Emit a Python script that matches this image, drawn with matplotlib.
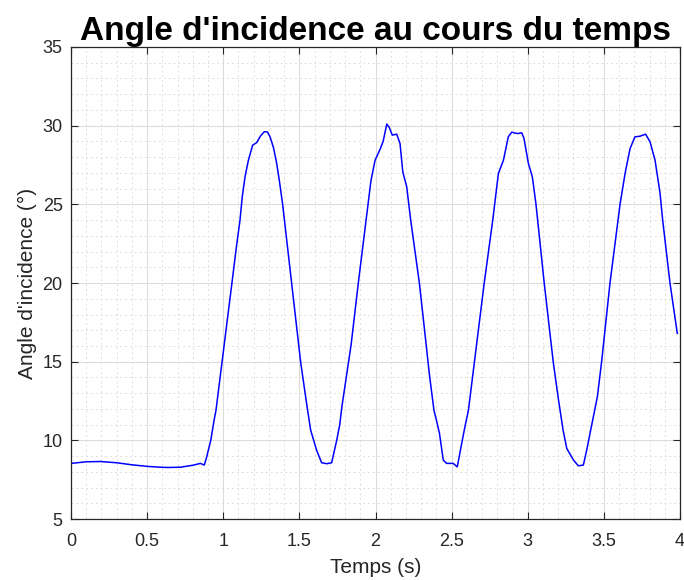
import matplotlib
matplotlib.use('Agg')
import matplotlib.pyplot as plt
from matplotlib.ticker import MultipleLocator

temps = [0.00, 0.10, 0.19, 0.30, 0.40, 0.50, 0.60, 0.65, 0.72, 0.80, 0.85, 0.875,
         0.89, 0.905, 0.918, 0.94, 0.952, 1.00, 1.057, 1.085, 1.11, 1.125, 1.143,
         1.165, 1.193, 1.22, 1.245, 1.27, 1.29, 1.307, 1.33, 1.351, 1.37, 1.39,
         1.449, 1.508, 1.545, 1.574, 1.613, 1.646, 1.68, 1.712, 1.745, 1.765, 1.78,
         1.84, 1.887, 1.938, 1.97, 1.997, 2.03, 2.05, 2.074, 2.09, 2.11, 2.139,
         2.161, 2.179, 2.205, 2.231, 2.288, 2.32, 2.353, 2.384, 2.40, 2.42, 2.445,
         2.467, 2.51, 2.537, 2.566, 2.59, 2.61, 2.66, 2.714, 2.77, 2.807, 2.84,
         2.872, 2.895, 2.92, 2.938, 2.96, 2.975, 3.004, 3.03, 3.054, 3.108, 3.167,
         3.20, 3.232, 3.256, 3.30, 3.332, 3.365, 3.387, 3.413, 3.457, 3.485, 3.54,
         3.606, 3.639, 3.672, 3.704, 3.737, 3.774, 3.803, 3.836, 3.869,
         3.886, 3.934, 3.982]
angle = [8.54, 8.64, 8.66, 8.58, 8.45, 8.35, 8.29, 8.28, 8.30, 8.42, 8.54, 8.43,
         8.9, 9.5, 10.0, 11.3, 11.9, 15.6, 20.0, 22.2, 24.0, 25.5, 26.75,
         27.8, 28.76, 28.93, 29.35, 29.62, 29.6, 29.3, 28.6, 27.6, 26.4, 25.0,
         20.0, 15.0, 12.5, 10.65, 9.38, 8.58, 8.52, 8.58, 10.0, 11.0, 12.2,
         16.1, 20.0, 24.0, 26.5, 27.8, 28.5, 29.0, 30.1, 29.9, 29.4, 29.46,
         28.87, 27.07, 26.11, 24.0, 20.0, 17.2, 14.26, 11.9, 11.29, 10.45, 8.75,
         8.54, 8.54, 8.32, 9.81, 11.0, 11.9, 15.8, 20.0, 24.0, 26.96, 27.8,
         29.29, 29.59, 29.52, 29.5, 29.55, 29.2, 27.6, 26.75, 25.0, 20.0, 15.0,
         12.7, 10.65, 9.49, 8.75, 8.39, 8.43, 9.38, 10.65, 12.77, 15.0, 20.0,
         25.0, 26.96, 28.55, 29.29, 29.33, 29.46, 28.97, 27.8, 25.69,
         24.0, 20.0, 16.8]

plt.rcParams['font.family'] = ['Liberation Sans', 'DejaVu Sans']
gris = '#262626'

fig = plt.figure(figsize=(6.84, 5.80), dpi=100)
ax = fig.add_axes([0.1038, 0.105, 0.8904, 0.814])

ax.plot(temps, angle, color='#0000ff', linewidth=1.1)

ax.set_xlim(0, 4)
ax.set_ylim(5, 35)
ax.xaxis.set_major_locator(MultipleLocator(0.5))
ax.xaxis.set_minor_locator(MultipleLocator(0.1))
ax.yaxis.set_major_locator(MultipleLocator(5))
ax.yaxis.set_minor_locator(MultipleLocator(1))
ax.xaxis.set_major_formatter(plt.FuncFormatter(lambda v, p: f'{v:g}'))

ax.grid(which='major', color='#dcdcdc', linestyle='-', linewidth=0.8)
ax.grid(which='minor', color='#dedede', linestyle=(0, (2, 3)), linewidth=0.7)
ax.set_axisbelow(True)

ax.tick_params(which='both', direction='in', top=True, right=True,
               colors=gris, labelsize=13, width=0.8)
ax.tick_params(which='major', length=5)
ax.tick_params(which='minor', length=0)
ax.tick_params(axis='x', pad=10)
ax.tick_params(axis='y', pad=6)
for s in ax.spines.values():
    s.set_color(gris)
    s.set_linewidth(0.9)

ax.set_xlabel('Temps (s)', fontsize=15, color=gris, labelpad=6)
ax.set_ylabel("Angle d'incidence (°)", fontsize=15, color=gris, labelpad=4)
ax.set_title("Angle d'incidence au cours du temps", fontsize=24,
             fontweight='bold', color='black', pad=5)

fig.savefig('out.png', dpi=100)
